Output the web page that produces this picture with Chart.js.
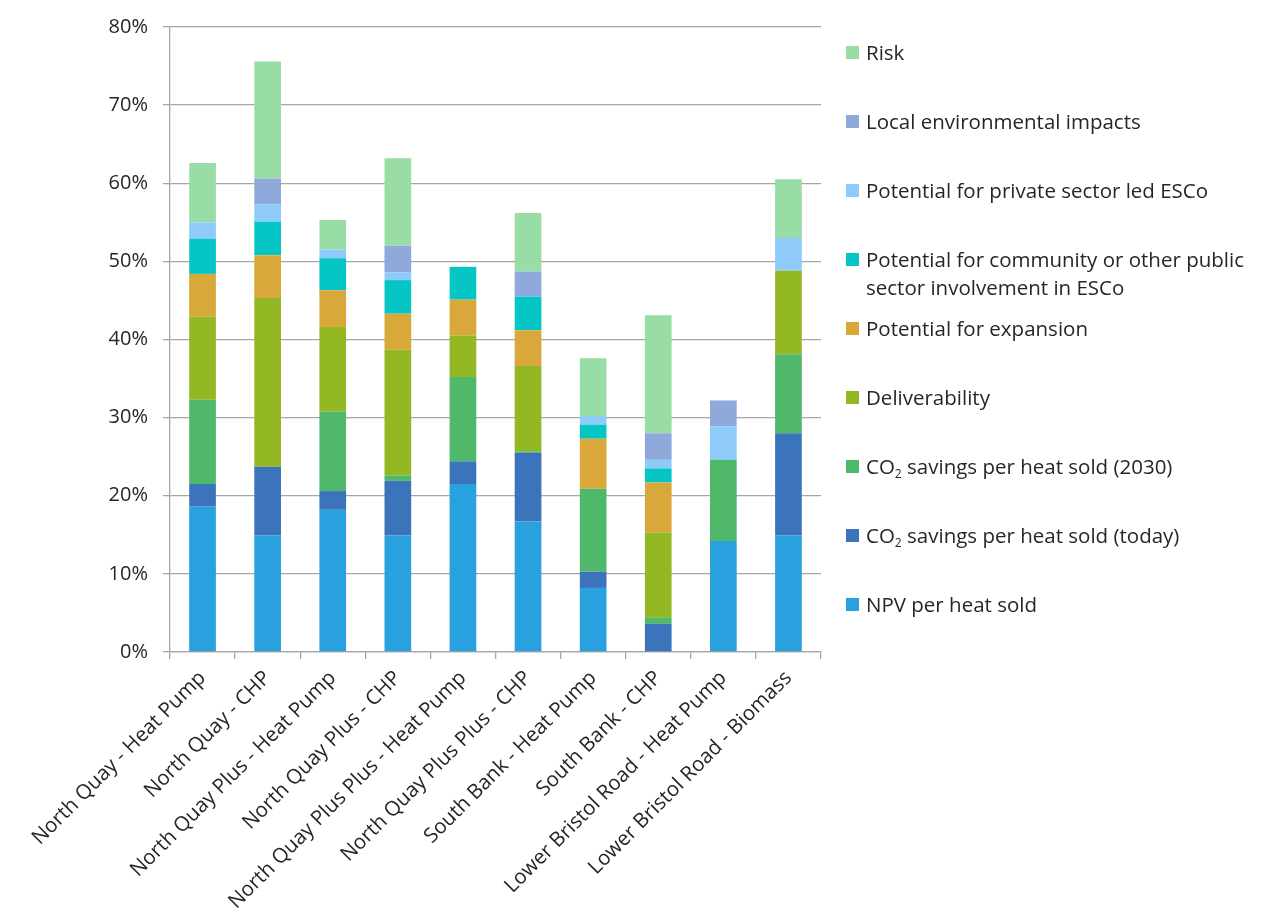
<!DOCTYPE html>
<html>
<head>
<meta charset="utf-8">
<script src="https://cdn.jsdelivr.net/npm/chart.js@4.4.1/dist/chart.umd.min.js"></script>
<style>
  body { margin: 0; background: #ffffff; }
  #wrap { position: relative; width: 1278px; height: 914px; }
  #chart { position: absolute; left: 0; top: 0; }
  .item { position: absolute; left: 846px; font: 20.5px "Open Sans", sans-serif; color: #262626; line-height: 28px; white-space: pre-line; }
  .item .sw { position: absolute; left: 0; top: 8px; width: 13px; height: 13px; }
  .item .txt { display: block; margin-left: 20px; }
  .item sub { font-size: 12px; vertical-align: -4px; line-height: 0; }
</style>
</head>
<body>
<div id="wrap">
  <canvas id="chart" width="1278" height="914"></canvas>
  <div id="legend"></div>
</div>
<script>
// Options compared
var categories = [
  'North Quay - Heat Pump',
  'North Quay - CHP',
  'North Quay Plus - Heat Pump',
  'North Quay Plus - CHP',
  'North Quay Plus Plus - Heat Pump',
  'North Quay Plus Plus - CHP',
  'South Bank - Heat Pump',
  'South Bank - CHP',
  'Lower Bristol Road - Heat Pump',
  'Lower Bristol Road - Biomass'
];

// Weighted scores per criterion (%), stacked from bottom to top
var npvPerHeat      = [18.6, 14.9, 18.2, 14.9, 21.5, 16.7, 8.2, 0.0, 14.2, 14.9];
var co2Today        = [2.9, 8.8, 2.4, 7.0, 2.9, 8.8, 2.1, 3.6, 0.0, 13.1];
var co2Year2030     = [10.8, 0.0, 10.2, 0.7, 10.8, 0.2, 10.6, 0.8, 10.4, 10.1];
var deliverability  = [10.6, 21.6, 10.8, 16.1, 5.3, 10.9, 0.0, 10.9, 0.0, 10.7];
var expansion       = [5.5, 5.5, 4.7, 4.6, 4.6, 4.6, 6.4, 6.4, 0.0, 0.0];
var communityEsco   = [4.5, 4.3, 4.1, 4.3, 4.2, 4.3, 1.8, 1.8, 0.0, 0.0];
var privateEsco     = [2.1, 2.2, 1.1, 1.0, 0.0, 0.0, 1.1, 1.1, 4.3, 4.2];
var localImpacts    = [0.0, 3.3, 0.0, 3.4, 0.0, 3.2, 0.0, 3.4, 3.3, 0.0];
var risk            = [7.6, 15.0, 3.8, 11.2, 0.0, 7.5, 7.4, 15.1, 0.0, 7.5];

var seriesNames = [
  'NPV per heat sold',
  'CO<sub>2</sub> savings per heat sold (today)',
  'CO<sub>2</sub> savings per heat sold (2030)',
  'Deliverability',
  'Potential for expansion',
  'Potential for community or other public\nsector involvement in ESCo',
  'Potential for private sector led ESCo',
  'Local environmental impacts',
  'Risk'
];
var seriesValues = [npvPerHeat, co2Today, co2Year2030, deliverability, expansion,
  communityEsco, privateEsco, localImpacts, risk];
var seriesColors = ['#2aa1df', '#3b74ba', '#50b86b', '#94b823', '#d9a83a',
  '#05c6c4', '#8ecafa', '#8fa9db', '#98dda6'];

var yTicks = [0, 10, 20, 30, 40, 50, 60, 70, 80];

var gridColor = '#a6a6a6';
var textColor = '#262626';

var datasets = seriesValues.map(function (vals, i) {
  return {
    label: seriesNames[i].replace(/<\/?sub>/g, ''),
    data: vals,
    backgroundColor: seriesColors[i],
    borderWidth: 0,
    barPercentage: 0.41,
    categoryPercentage: 1.0
  };
});

var ctx = document.getElementById('chart').getContext('2d');
var myChart = new Chart(ctx, {
  type: 'bar',
  data: { labels: categories, datasets: datasets },
  options: {
    responsive: false,
    animation: false,
    layout: { padding: { left: 0, right: 457, top: 22, bottom: 0 } },
    plugins: {
      legend: { display: false },
      tooltip: { enabled: false }
    },
    scales: {
      x: {
        stacked: true,
        grid: { drawOnChartArea: false, drawTicks: true, tickLength: 7, color: gridColor, lineWidth: 1.3 },
        border: { display: true, color: gridColor, width: 1.3 },
        ticks: {
          minRotation: 45,
          maxRotation: 45,
          padding: 7,
          color: textColor,
          font: { family: 'Open Sans', size: 20.5 }
        },
        afterFit: function (scale) { scale.height = 262; }
      },
      y: {
        stacked: true,
        min: yTicks[0],
        max: yTicks[yTicks.length - 1],
        afterBuildTicks: function (scale) {
          scale.ticks = yTicks.map(function (v) { return { value: v }; });
        },
        grid: { color: gridColor, lineWidth: 1.3, tickLength: 7 },
        border: { display: true, color: gridColor, width: 1.3 },
        ticks: {
          padding: 15,
          color: textColor,
          font: { family: 'Open Sans', size: 20 },
          callback: function (v) { return v + '%'; }
        },
        afterFit: function (scale) { scale.width = 170; }
      }
    }
  }
});

// Legend on the right, top entry first (reverse of the stack order)
var legend = document.getElementById('legend');
for (var i = seriesNames.length - 1; i >= 0; i--) {
  var slot = seriesNames.length - 1 - i;
  var item = document.createElement('div');
  item.className = 'item';
  item.style.top = (38 + slot * 69) + 'px';
  item.innerHTML = '<span class="sw" style="background:' + seriesColors[i] + '"></span>' +
    '<span class="txt">' + seriesNames[i] + '</span>';
  legend.appendChild(item);
}
</script>
</body>
</html>
